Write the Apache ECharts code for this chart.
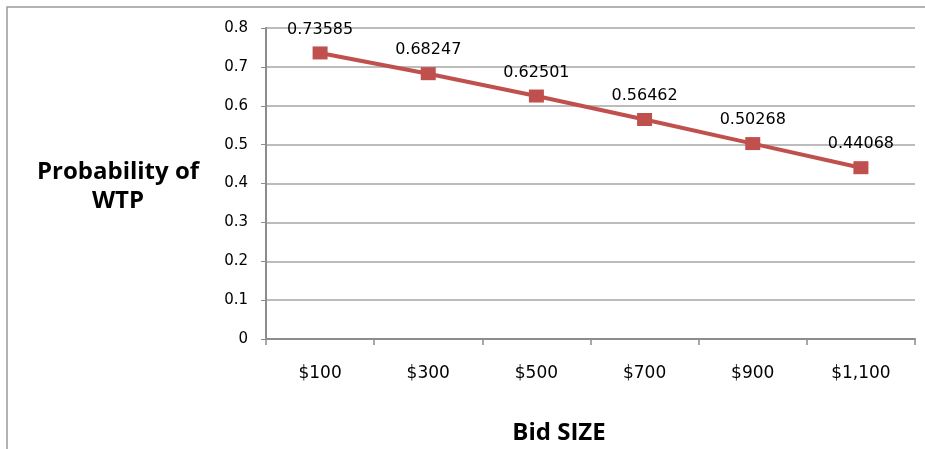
<!DOCTYPE html>
<html><head><meta charset="utf-8">
<script src="https://cdn.jsdelivr.net/npm/echarts@6/dist/echarts.min.js"></script>
<style>html,body{margin:0;padding:0;background:#fff}#c{width:925px;height:449px}</style>
</head><body><div id="c"></div>
<script>
const categories = ['$100','$300','$500','$700','$900','$1,100'];
const probability = [0.73585, 0.68247, 0.62501, 0.56462, 0.50268, 0.44068];
const yTicks = [0, 0.1, 0.2, 0.3, 0.4, 0.5, 0.6, 0.7, 0.8];

const chart = echarts.init(document.getElementById('c'));
const font = '"DejaVu Sans", sans-serif';
const tfont = 'bold 24px "Open Sans", sans-serif';
chart.setOption({
  animation: false,
  backgroundColor: '#fff',
  grid: { left: 266, right: 10, top: 28, bottom: 110 },
  graphic: [
    { type: 'rect', shape: { x: 7, y: 7, width: 940, height: 460 }, style: { fill: 'none', stroke: '#9a9a9a', lineWidth: 1.5 }, silent: true },
    { type: 'text', x: 118, y: 172, style: { x: 0, y: 0, text: 'Probability of', font: tfont, fill: '#000', align: 'center', verticalAlign: 'middle' } },
    { type: 'text', x: 118, y: 201, style: { x: 0, y: 0, text: 'WTP', font: tfont, fill: '#000', align: 'center', verticalAlign: 'middle' } },
    { type: 'text', x: 559, y: 433, style: { x: 0, y: 0, text: 'Bid SIZE', font: tfont, fill: '#000', align: 'center', verticalAlign: 'middle' } }
  ],
  xAxis: {
    type: 'category', data: categories, boundaryGap: true,
    axisLine: { lineStyle: { color: '#8c8c8c', width: 2 } },
    axisTick: { show: true, length: 6, lineStyle: { color: '#8c8c8c', width: 1.5 } },
    axisLabel: { margin: 26, fontSize: 17, color: '#000', fontFamily: font },
    splitLine: { show: false }
  },
  yAxis: {
    type: 'value', min: 0, max: 0.8, interval: 0.1,
    axisLine: { show: true, lineStyle: { color: '#8c8c8c', width: 2 } },
    axisTick: { show: true, length: 5, lineStyle: { color: '#8c8c8c' } },
    axisLabel: { margin: 18, fontSize: 15, color: '#000', fontFamily: font,
      formatter: v => { const t = yTicks.find(x => Math.abs(x - v) < 1e-9); return t === undefined ? '' : String(t); } },
    splitLine: { lineStyle: { color: '#a6a6a6', width: 1.5 } }
  },
  series: [{
    type: 'line', data: probability,
    lineStyle: { color: '#C0504D', width: 4 },
    itemStyle: { color: '#C0504D' },
    symbol: 'rect', symbolSize: [15, 13], showAllSymbol: true,
    label: { show: true, position: 'top', distance: 9, fontSize: 16, color: '#000', fontFamily: font,
      formatter: p => String(probability[p.dataIndex]) }
  }]
});
</script></body></html>
